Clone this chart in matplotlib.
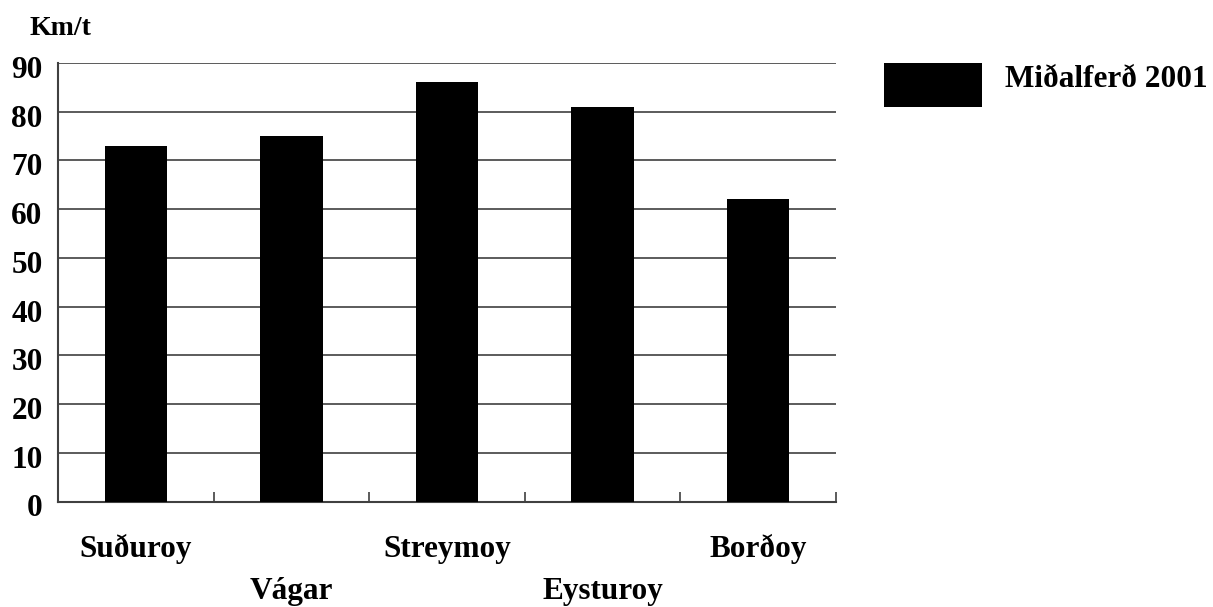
import matplotlib
matplotlib.use("Agg")
import matplotlib.pyplot as plt
from matplotlib.patches import Rectangle
from matplotlib.transforms import blended_transform_factory, ScaledTranslation

categories = ["Suðuroy", "Vágar", "Streymoy", "Eysturoy", "Borðoy"]
values = [73, 75, 86, 81, 62]
yticks = [0, 10, 20, 30, 40, 50, 60, 70, 80, 90]
series_name = "Miðalferð 2001"
unit_label = "Km/t"

W, H = 1213, 607
plt.rcParams['font.family'] = ['Liberation Serif', 'DejaVu Serif']
plt.rcParams['font.weight'] = 'bold'
FS = 22.5

fig = plt.figure(figsize=(W / 100, H / 100), dpi=100)
ax = fig.add_axes([58 / W, (H - 501.5) / H, 778 / W, (501.5 - 63) / H])

x = list(range(len(categories)))
ax.bar(x, values, width=0.40, color="black", zorder=3)
ax.set_xlim(-0.5, len(categories) - 0.5)
ax.set_ylim(0, 90)

ax.set_yticks(yticks)
ax.set_yticklabels([str(v) for v in yticks], fontsize=FS, fontweight='bold')
ax.tick_params(axis='y', length=0, pad=11)
off = ScaledTranslation(0, -4 / 100, fig.dpi_scale_trans)
for lab in ax.get_yticklabels():
    lab.set_transform(lab.get_transform() + off)
for v in yticks[1:]:
    ax.axhline(v, color="#404040", linewidth=1.2, zorder=1)

ax.set_xticks([i + 0.5 for i in x])
ax.set_xticklabels([])
ax.tick_params(axis='x', direction='in', length=7.5, width=1.2, color="#404040")

for s in ['top', 'right']:
    ax.spines[s].set_visible(False)
for s in ['left', 'bottom']:
    ax.spines[s].set_color("#404040")
    ax.spines[s].set_linewidth(1.5)

tr = blended_transform_factory(ax.transData, fig.transFigure)
for i, name in enumerate(categories):
    yy = 1 - (557 if i % 2 == 0 else 599) / H
    ax.text(i, yy, name, transform=tr, ha='center', va='baseline',
            fontsize=FS, fontweight='bold')

fig.text(30 / W, 1 - 35 / H, unit_label, ha='left', va='baseline',
         fontsize=20, fontweight='bold')

fig.add_artist(Rectangle((884 / W, 1 - 107 / H), 98 / W, 44 / H,
                         transform=fig.transFigure, facecolor="black",
                         edgecolor="none"))
fig.text(1005 / W, 1 - 87 / H, series_name, ha='left', va='baseline',
         fontsize=FS, fontweight='bold')

fig.savefig("out.png", dpi=100)
